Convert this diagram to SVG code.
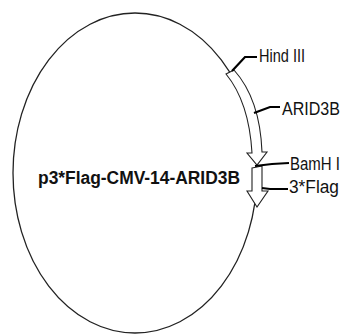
<svg xmlns="http://www.w3.org/2000/svg" width="347" height="336" viewBox="0 0 347 336">
<style>
.bb{fill:none;stroke:#222;stroke-width:1.3}
.ar{fill:#fff;stroke:#222;stroke-width:1.1;stroke-linejoin:miter}
.ld{fill:none;stroke:#000;stroke-width:2.2}
.lb{font-family:"Liberation Sans",Arial,sans-serif;font-size:17.5px;fill:#111}
.tt{font-family:"Liberation Sans",Arial,sans-serif;font-size:18px;font-weight:bold;fill:#111}
</style>
<rect width="347" height="336" fill="#fff"/>
<g id="backbone">
<ellipse class="bb" cx="135" cy="173" rx="122" ry="160"/>
<text class="tt" x="38" y="184" textLength="202" lengthAdjust="spacingAndGlyphs">p3*Flag-CMV-14-ARID3B</text>
</g>
<g id="arid3b">
<path class="ar" d="M226,74 L234,70 Q260,99 262,152 L267,152 L257,165 L247,153 L252,153 Q249,102 226,74 Z"/>
</g>
<g id="flag3">
<path class="ar" d="M252,168 L262,166 L262,191 L268,191 L257,207 L247,191 L252,191 Z"/>
</g>
<g id="connectors">
<polyline class="ld" points="232,71 245,57 257,57"/>
<polyline class="ld" points="254,113 270,107 280,107"/>
<polyline class="ld" points="255,166 272,164 289,163"/>
<polyline class="ld" points="262,188 270,189 288,189"/>
</g>
<g id="labels">
<text class="lb" x="259" y="62" textLength="46" lengthAdjust="spacingAndGlyphs">Hind III</text>
<text class="lb" x="282" y="115" textLength="58" lengthAdjust="spacingAndGlyphs">ARID3B</text>
<text class="lb" x="290" y="170" textLength="50" lengthAdjust="spacingAndGlyphs">BamH I</text>
<text class="lb" x="289" y="193" textLength="50" lengthAdjust="spacingAndGlyphs">3*Flag</text>
</g>
</svg>
